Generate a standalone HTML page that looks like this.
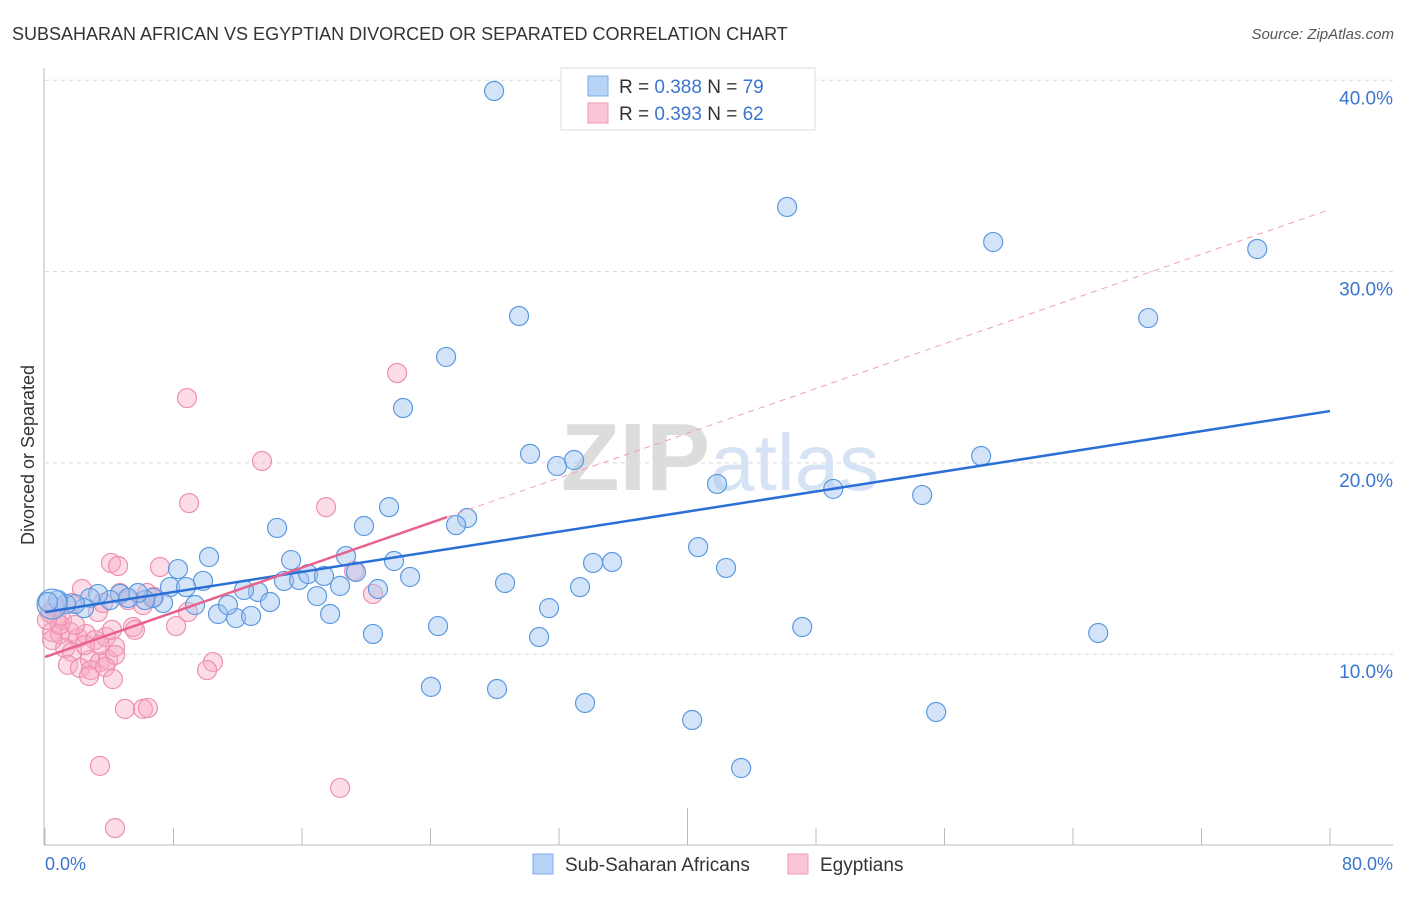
<!DOCTYPE html>
<html><head><meta charset="utf-8"><style>
body{margin:0;background:#fff;font-family:"Liberation Sans",sans-serif}
svg text{font-family:"Liberation Sans",sans-serif}
</style></head><body>
<svg width="1406" height="892" xmlns="http://www.w3.org/2000/svg">
<text x="12" y="40" font-size="18" fill="#333">SUBSAHARAN AFRICAN VS EGYPTIAN DIVORCED OR SEPARATED CORRELATION CHART</text>
<text x="1394" y="39" font-size="15" fill="#555" font-style="italic" text-anchor="end">Source: ZipAtlas.com</text>
<g id="grid"></g>
<text x="720" y="490" font-size="96" fill="#e4e4e4" text-anchor="middle" font-family="Liberation Serif"><tspan font-weight="bold" fill="#dcdcdc">ZIP</tspan><tspan fill="#d5e3f5" font-family="Liberation Sans" font-size="80">atlas</tspan></text>
<g id="pts"></g>
<g id="lines"></g>
<text transform="translate(34,455) rotate(-90)" font-size="18" fill="#333" text-anchor="middle">Divorced or Separated</text>
<text x="45" y="870" font-size="18" fill="#3a75d0">0.0%</text>
<text x="1393" y="870" font-size="18" fill="#3a75d0" text-anchor="end">80.0%</text>
<g>
<rect x="533" y="854" width="20" height="20" fill="#b7d4f7" stroke="#7aaee8"/>
<text x="565" y="871" font-size="19" fill="#333">Sub-Saharan Africans</text>
<rect x="788" y="854" width="20" height="20" fill="#fbc7d6" stroke="#ee98b2"/>
<text x="820" y="871" font-size="19" fill="#333">Egyptians</text>
</g>
<g>
<rect x="561" y="68" width="254" height="62" fill="#fff" stroke="#ddd"/>
<rect x="588" y="76" width="20" height="20" fill="#b7d4f7" stroke="#7aaee8"/>
<rect x="588" y="103" width="20" height="20" fill="#fbc7d6" stroke="#ee98b2"/>
<text x="619" y="93" font-size="19" fill="#333">R = <tspan fill="#3a75d0">0.388</tspan>   N = <tspan fill="#3a75d0">79</tspan></text>
<text x="619" y="120" font-size="19" fill="#333">R = <tspan fill="#3a75d0">0.393</tspan>   N = <tspan fill="#3a75d0">62</tspan></text>
</g>
</svg>
<script>
const yTicks=[10,20,30,40];
const yTickLabels=["10.0%","20.0%","30.0%","40.0%"];
const xTicks=[0,8,16,24,32,40,48,56,64,72,80];
const blueX=[27.96,46.2,59.03,75.47,68.68,29.51,24.97,22.29,30.2,31.88,32.94,41.84,49.07,54.61,58.28,14.45,19.86,21.42,26.28,25.59,10.21,15.32,18.74,21.73,8.28,9.84,7.78,8.78,13.26,12.39,14.88,15.82,16.38,17.37,18.37,16.94,19.36,20.73,22.73,28.64,33.31,34.12,35.31,40.66,42.4,31.38,17.75,10.77,11.89,12.83,11.39,9.34,14.01,7.35,6.72,6.23,5.79,4.67,4.05,3.3,2.8,2.43,1.87,1.31,0.81,0.44,0.19,20.42,24.47,30.76,47.14,65.57,24.03,28.14,33.62,40.29,55.48,43.34,5.17];
const blueY=[39.44,33.38,31.55,31.18,27.57,27.68,25.54,22.87,20.47,19.84,20.15,18.9,18.64,18.32,20.36,16.6,16.7,17.69,17.12,16.75,15.08,14.92,15.13,14.87,14.45,13.83,13.51,13.51,13.25,13.36,13.83,13.88,14.19,14.09,13.57,13.04,14.3,13.41,14.04,13.72,13.51,14.77,14.82,15.6,14.51,12.41,12.1,12.1,11.89,12.0,12.57,12.57,12.73,12.68,12.94,12.83,13.2,13.15,12.83,13.15,12.94,12.41,12.62,12.62,12.83,12.62,12.73,11.06,11.47,10.9,11.42,11.11,8.29,8.18,7.45,6.56,6.98,4.05,12.94];
const pinkX=[21.92,8.84,13.51,8.97,17.5,4.11,4.55,7.16,19.24,2.3,1.68,4.67,6.35,6.79,5.17,6.1,20.42,3.3,8.16,5.48,5.6,8.9,0.31,0.68,1.06,0.44,0.93,1.56,2.05,2.55,3.11,3.8,4.36,1.25,1.68,2.8,3.42,3.92,4.36,1.43,2.18,2.86,3.74,10.46,10.09,2.74,4.23,4.98,6.1,6.41,3.42,18.37,4.36,3.42,0.44,0.93,1.87,2.49,0.62,0.12,3.61,4.17];
const pinkY=[24.7,23.39,20.1,17.9,17.69,14.77,14.61,14.56,14.35,13.41,12.68,13.2,13.2,12.99,12.83,12.57,13.15,12.21,11.47,11.42,11.27,12.21,12.15,11.94,11.79,11.16,11.06,11.16,10.85,11.06,10.74,10.9,10.38,10.32,10.12,9.7,9.59,9.7,9.96,9.44,9.28,9.17,9.33,9.59,9.17,8.86,8.7,7.14,7.14,7.19,4.16,3.01,0.91,10.48,10.74,11.53,11.53,10.48,12.47,11.79,12.68,11.27];
const blueLine=[12.2,22.71];   // y at x=0 and x=80
const pinkLine=[9.85,33.25];   // y at x=0 and x=80
const pinkSolidEnd=25.03;
const NS="http://www.w3.org/2000/svg";
const X=v=>45+v*16.0625, Y=v=>845.5-v*19.13;
function mk(tag,attrs,parent){const e=document.createElementNS(NS,tag);for(const k in attrs)e.setAttribute(k,attrs[k]);parent.appendChild(e);return e;}
const grid=document.getElementById('grid');
yTicks.forEach((t,i)=>{
 const l=mk('line',{x1:45,x2:1393,y1:Y(t),y2:Y(t),stroke:'#d8d8d8','stroke-dasharray':'4,4'},grid);
 
 
 const tx=mk('text',{x:1393,y:Y(t)+24,'font-size':19,fill:'#3a75d0','text-anchor':'end'},grid);
 tx.textContent=yTickLabels[i];
 
 
});
const ax=mk('line',{x1:44,x2:44,y1:68,y2:845,stroke:'#bbb'},grid);


const bx=mk('line',{x1:44,x2:1393,y1:845,y2:845,stroke:'#bbb'},grid);


xTicks.forEach(t=>{
 const l=mk('line',{x1:X(t),x2:X(t),y1:t===40?808:828,y2:845,stroke:'#bbb'},grid);
 
 
});
const pts=document.getElementById('pts');
pinkX.forEach((x,i)=>{
 const c=mk('circle',{cx:X(x),cy:Y(pinkY[i]),r:9.5,fill:'rgba(248,170,195,0.4)',stroke:'#ee90ad','stroke-width':1.2},pts);
 
 
});
blueX.forEach((x,i)=>{
 const c=mk('circle',{cx:X(x),cy:Y(blueY[i]),r:i===65?15:9.5,fill:'rgba(160,196,240,0.45)',stroke:'#5c9ae0','stroke-width':1.2},pts);
 
 
});
const lines=document.getElementById('lines');
const pinkAt=x=>pinkLine[0]+(pinkLine[1]-pinkLine[0])*x/80;
const pd=mk('line',{x1:X(pinkSolidEnd),y1:Y(pinkAt(pinkSolidEnd)),x2:X(80),y2:Y(pinkLine[1]),stroke:'#eea0b5','stroke-width':1,'stroke-dasharray':'6,5'},lines);


const bl=mk('line',{x1:X(0),y1:Y(blueLine[0]),x2:X(80),y2:Y(blueLine[1]),stroke:'#2a6fd6','stroke-width':2.5},lines);


const pl=mk('line',{x1:X(0),y1:Y(pinkLine[0]),x2:X(pinkSolidEnd),y2:Y(pinkAt(pinkSolidEnd)),stroke:'#e8628e','stroke-width':2.5},lines);


</script>
</body></html>
